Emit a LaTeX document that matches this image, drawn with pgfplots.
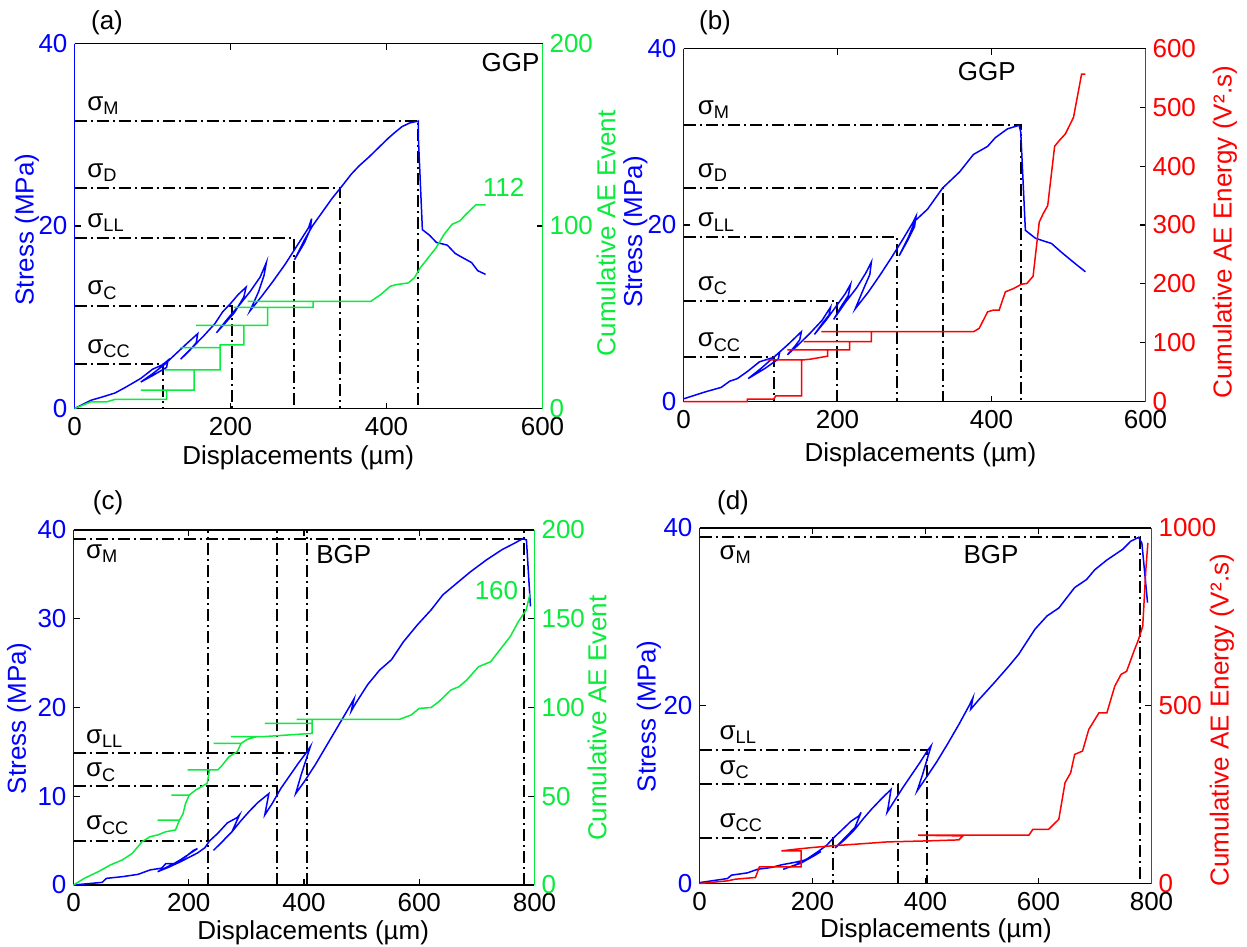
\documentclass[border=0pt]{standalone}
\usepackage{fontspec}
\setmainfont{Liberation Sans}
\usepackage{pgfplots}
\pgfplotsset{compat=1.18}
\definecolor{sb}{RGB}{0,0,255}
\definecolor{aeg}{RGB}{10,235,60}
\definecolor{aer}{RGB}{255,0,0}
\newcommand\fs{\fontsize{13}{15}\selectfont}
\tikzset{sig/.style={anchor=base west, inner sep=0pt, font=\fs}}
\pgfplotsset{
  common/.style={scale only axis, clip=false, tick align=inside, major tick length=3pt,
    every tick/.style={line width=0.6pt},
    axis line style={line width=0.9pt},
    ticklabel style={font=\fs},
    xticklabel style={yshift=-3pt, inner sep=1pt},
    label style={font=\fs, inner sep=1pt},
    /pgf/number format/assume math mode=true,
    /pgf/number format/1000 sep={},
    scaled ticks=false, xmin=0, anchor=south west},
  leftax/.style={common, axis x line*=box, axis y line*=left,
    y axis line style={sb}, yticklabel style={text=sb}, ylabel style={text=sb, rotate=0},
    ymin=0, ymax=40, ylabel={Stress (MPa)}, xlabel={Displacements (µm)}},
  rightax/.style={common, axis x line=none, axis y line*=right, xtick=\empty, ymin=0},
  stress/.style={sb, line width=0.75pt},
  refl/.style={black, line width=1pt, dash pattern=on 6pt off 2pt on 1pt off 2pt},
}
\begin{document}
\begin{tikzpicture}
\useasboundingbox (0,0) rectangle (623.5pt,-473.5pt);
% ---------------- (a) ----------------
\begin{axis}[leftax, at={(37.25pt,-204.25pt)}, width=234pt, height=182.5pt, xmax=600,
  xtick={0,200,400,600}, ytick={0,20,40},
  xlabel style={at={(axis description cs:0.478,-0.135)}, anchor=center},
  ylabel style={at={(axis description cs:-0.1015,0.49)}, anchor=center}]
\addplot[refl] coordinates {(0,31.5) (441,31.5) (441,0)};
\addplot[refl] coordinates {(0,24.15) (341,24.15) (341,0)};
\addplot[refl] coordinates {(0,18.64) (281,18.64) (281,0)};
\addplot[refl] coordinates {(0,11.27) (202,11.27) (202,0)};
\addplot[refl] coordinates {(0,4.84) (114,4.84) (114,0)};
\addplot[stress] coordinates {(0,0) (21,0.9) (37,1.3) (52,1.7) (67,2.4) (85,3.3) (100,4.3) (113,4.8) (120,5.3) (118,4.5) (100,3.6) (85,2.9) (100,3.8) (115,4.8) (130,6.0) (145,7.2) (158,8.2) (156,7.2) (147,6.3) (136,5.4) (150,6.6) (165,7.9) (180,9.3) (190,10.6) (200,11.5) (210,12.5) (220,13.3) (217,12.2) (205,10.5) (182,8.3) (195,9.7) (210,11.2) (225,12.8) (238,14.4) (246,16.0) (243,14.6) (236,12.8) (225,10.7) (240,12.3) (255,14.0) (270,15.8) (285,17.8) (300,19.8) (304,20.8) (302,19.6) (295,18.2) (282,16.3) (295,18.5) (305,20.0) (315,21.2) (330,23.0) (345,24.6) (355,25.7) (365,26.6) (378,27.6) (390,28.6) (402,29.6) (410,30.2) (420,30.9) (430,31.3) (441,31.5) (441,29.4) (446,19.6) (455,19.0) (464,18.2) (478,17.9) (488,17.0) (494,16.7) (509,16.0) (517,15.1) (527,14.7)};
\node[sig] at (axis cs:16,32.7) {σ\textsubscript{M}};
\node[sig] at (axis cs:16,25.35) {σ\textsubscript{D}};
\node[sig] at (axis cs:16,19.84) {σ\textsubscript{LL}};
\node[sig] at (axis cs:16,12.47) {σ\textsubscript{C}};
\node[sig] at (axis cs:16,6.04) {σ\textsubscript{CC}};
\node[font=\fs] at (axis cs:559,37.9) {GGP};
\end{axis}
\begin{axis}[rightax, at={(37.25pt,-204.25pt)}, width=234pt, height=182.5pt, xmax=600,
  ymax=200, ytick={0,100,200}, y axis line style={aeg}, yticklabel style={text=aeg},
  ylabel={Cumulative AE Event},
  ylabel style={text=aeg, rotate=0, at={(axis description cs:1.136,0.48)}, anchor=center}]
\addplot[aeg, line width=0.75pt] coordinates {(0,0) (21.4,3.7) (41.7,3.7) (51.9,5.0) (118,5.0) (118,10.1) (85,10.1) (153.5,10.1) (153.5,21.1) (115.4,21.1) (186.6,21.1) (186.6,33.4) (135.7,33.4) (186.6,33.4) (186.6,34.9) (217,34.9) (217,45.5) (156,45.5) (247.6,45.5) (247.6,55.4) (204,55.4) (306,55.4) (306,58.7) (222,58.7) (379.8,58.7) (392.5,62.4) (405,67.0) (412.8,67.9) (428,68.8) (435.7,71.6) (443.3,77.1) (453.5,82.6) (463.6,88.1) (473.8,95.4) (484,100.9) (494,102.8) (501.8,106.4) (514.5,111.6) (527.2,111.6)};
\node[font=\fs, text=aeg] at (axis cs:550,121) {112};
\end{axis}
% ---------------- (b) ----------------
\begin{axis}[leftax, at={(341.75pt,-200.75pt)}, width=231pt, height=176.5pt, xmax=600,
  xtick={0,200,400,600}, ytick={0,20,40},
  xlabel style={at={(axis description cs:0.513,-0.15)}, anchor=center},
  ylabel style={at={(axis description cs:-0.104,0.48)}, anchor=center}]
\addplot[refl] coordinates {(0,31.3) (438,31.3) (438,0)};
\addplot[refl] coordinates {(0,24.2) (336.6,24.2) (336.6,0)};
\addplot[refl] coordinates {(0,18.6) (277.4,18.6) (277.4,0)};
\addplot[refl] coordinates {(0,11.4) (199,11.4) (199,0)};
\addplot[refl] coordinates {(0,5.0) (117,5.0) (117,0)};
\addplot[stress] coordinates {(0,0.3) (28.6,1.1) (49,1.6) (60,2.3) (70,2.6) (83,3.4) (98.7,4.5) (117,5.0) (125,5.6) (123,4.8) (105,3.7) (84,2.6) (100,3.7) (117,5.0) (135,6.4) (153,7.9) (151,7.0) (145,6.3) (135,5.3) (150,6.5) (165,7.8) (180,9.2) (191,10.7) (189,9.8) (180,8.8) (170,7.6) (185,9.2) (200,11.0) (210,12.2) (217,13.3) (214,12.0) (205,10.8) (195,9.3) (210,11.2) (225,12.9) (237,14.6) (244,15.8) (242,14.4) (235,13.0) (223,10.5) (240,12.4) (255,14.3) (270,16.3) (285,18.4) (298,20.3) (302,21.0) (300,19.8) (292,18.4) (280,16.5) (292,18.6) (301,20.5) (317,21.8) (336.6,24.2) (358.4,26.0) (376.6,28.0) (394.8,28.9) (405,29.9) (420.8,30.9) (436,31.3) (438,30.5) (444,19.4) (457,18.5) (478,17.9) (491,16.9) (509,15.6) (522,14.7)};
\node[sig] at (axis cs:18,32.5) {σ\textsubscript{M}};
\node[sig] at (axis cs:18,25.4) {σ\textsubscript{D}};
\node[sig] at (axis cs:18,19.8) {σ\textsubscript{LL}};
\node[sig] at (axis cs:18,12.6) {σ\textsubscript{C}};
\node[sig] at (axis cs:18,6.2) {σ\textsubscript{CC}};
\node[font=\fs] at (axis cs:394,37.4) {GGP};
\end{axis}
\begin{axis}[rightax, at={(341.75pt,-200.75pt)}, width=231pt, height=176.5pt, xmax=600,
  ymax=600, ytick={0,100,...,600}, y axis line style={aer}, yticklabel style={text=aer},
  ylabel={Cumulative AE Energy (V²\kern0.5pt.s)},
  ylabel style={text=aer, rotate=0, at={(axis description cs:1.172,0.48)}, anchor=center}]
\addplot[aer, line width=0.75pt] coordinates {(0,0) (83,0) (83,4) (117,4) (120,9.6) (153.5,9.6) (153.5,70.6) (109,70.6) (155,70.6) (165,72) (187,77) (187,87.6) (135,87.6) (215.6,87.6) (215.6,101.7) (156,101.7) (244,101.7) (244,118.6) (179,118.6) (376.6,118.6) (384,124.3) (395,152.5) (402.6,155.4) (410,155.4) (418,186.4) (428.6,192) (439,199.4) (446,200.6) (454,213) (462,305) (467,319) (473,333) (482,434) (488,443.5) (496,455) (506.5,483) (517,556.5) (522,556.5)};
\end{axis}
% ---------------- (c) ----------------
\begin{axis}[leftax, at={(36.75pt,-442.5pt)}, width=230.5pt, height=177.5pt, xmax=800,
  xtick={0,200,400,600,800}, ytick={0,10,20,30,40},
  xlabel style={at={(axis description cs:0.52,-0.135)}, anchor=center},
  ylabel style={at={(axis description cs:-0.118,0.47)}, anchor=center}]
\addplot[refl] coordinates {(0,39.0) (782,39.0)};
\addplot[refl] coordinates {(0,14.85) (405,14.85)};
\addplot[refl] coordinates {(0,11.1) (352.6,11.1)};
\addplot[refl] coordinates {(0,4.96) (234,4.96)};
\addplot[refl] coordinates {(234,0) (234,40)};
\addplot[refl] coordinates {(352.6,0) (352.6,40)};
\addplot[refl] coordinates {(405.5,0) (405.5,40)};
\addplot[refl] coordinates {(782,0) (782,40)};
\addplot[stress] coordinates {(0,0) (50,0.3) (57,0.75) (85,0.94) (112,1.2) (133,1.7) (153,1.9) (160,2.4) (174,2.4) (195,3.2) (208,3.9) (215,4.1) (180,2.6) (146,1.5) (165,2.0) (185,2.6) (200,3.1) (215,3.6) (228,4.2) (236,4.96) (250,5.8) (267,7.0) (284,7.6) (288,7.9) (275,6.0) (243,3.9) (260,5.0) (275,6.0) (290,7.2) (305,8.3) (320,9.3) (339,10.3) (332,7.9) (345,9.2) (360,10.9) (375,12.3) (390,13.7) (405,15.0) (411,15.6) (395,12.4) (385.6,10.3) (400,11.6) (420,13.6) (440,15.8) (460,18.0) (480,20.2) (487,21.0) (482,19.6) (490,20.5) (510.7,22.6) (531,24.2) (552,25.4) (572.5,27.4) (596.6,29.3) (620.6,31.0) (641,32.7) (668.7,34.2) (689,35.3) (717,36.65) (744,37.8) (765,38.5) (779,39.0) (786,38.9) (793,31.4)};
\node[sig] at (axis cs:21,36.8) {σ\textsubscript{M}};
\node[sig] at (axis cs:21,16.0) {σ\textsubscript{LL}};
\node[sig] at (axis cs:21,12.2) {σ\textsubscript{C}};
\node[sig] at (axis cs:21,6.2) {σ\textsubscript{CC}};
\node[font=\fs] at (axis cs:469,37.2) {BGP};
\end{axis}
\begin{axis}[rightax, at={(36.75pt,-442.5pt)}, width=230.5pt, height=177.5pt, xmax=800,
  ymax=200, ytick={0,50,...,200}, y axis line style={aeg}, yticklabel style={text=aeg},
  ylabel={Cumulative AE Event},
  ylabel style={text=aeg, rotate=0, at={(axis description cs:1.136,0.47)}, anchor=center}]
\addplot[aeg, line width=0.75pt] coordinates {(0,0) (19,3.8) (43,7.5) (64,11.3) (84.5,14.1) (102,17.8) (119,24.4) (132.6,27.2) (146,28.2) (160,30) (177,31) (184,36.6) (146,36.6) (184,36.6) (190,40) (194.5,46) (201,50.7) (170,50.7) (201,50.7) (212,53.5) (222,55.4) (232,57.3) (236,64.8) (198,64.8) (250,64.8) (256,66.7) (270,72.3) (284,75.1) (291,79.8) (243,79.8) (291,79.8) (301,82) (318,83.6) (273,83.6) (330,83.6) (394,85) (414,85.4) (414,91) (332,91) (414,91) (414,93.3) (387,93.3) (565.6,93.3) (586,95.8) (600,99.5) (620.6,100) (634,103.3) (655,109.9) (669,111.7) (682.5,115.5) (703,123) (724,125.8) (737.5,131.5) (758,140) (772,148.4) (785.6,155) (792.4,164.3)};
\node[font=\fs, text=aeg] at (axis cs:734,166) {160};
\end{axis}
% ---------------- (d) ----------------
\begin{axis}[leftax, at={(349.75pt,-441.75pt)}, width=226pt, height=177.75pt, xmax=800,
  xtick={0,200,400,600,800}, ytick={0,20,40},
  xlabel style={at={(axis description cs:0.523,-0.133)}, anchor=center},
  ylabel style={at={(axis description cs:-0.112,0.47)}, anchor=center}]
\addplot[refl] coordinates {(0,38.95) (779.5,38.95) (779.5,0)};
\addplot[refl] coordinates {(0,15.0) (402.8,15.0) (402.8,0)};
\addplot[refl] coordinates {(0,11.16) (352,11.16) (352,0)};
\addplot[refl] coordinates {(0,5.1) (236.7,5.1) (236.7,0)};
\addplot[stress] coordinates {(0,0.1) (49.5,0.56) (56.5,0.94) (85,1.2) (102.5,1.6) (127,1.8) (145,2.1) (170,2.4) (191,2.7) (205,3.2) (215,3.6) (180,2.3) (148,1.6) (170,2.1) (191,2.8) (210,3.6) (225,4.3) (236.7,5.1) (250,5.9) (268,7.0) (282,7.6) (286,8.0) (275,6.3) (240,4.0) (258,5.0) (275,6.1) (290,7.3) (305,8.4) (320,9.4) (339,10.6) (334,8.6) (332,8.0) (345,9.3) (360,10.8) (375,12.2) (390,13.6) (404,15.0) (410,15.5) (395,12.3) (385,10.4) (400,11.8) (420,13.7) (440,15.8) (460,18.0) (478,20.1) (484,20.9) (480,19.6) (494.7,20.7) (519,22.4) (537,23.7) (548,24.5) (565,25.8) (593.6,28.6) (615,30.1) (636,31.0) (664,33.3) (685,34.2) (699.6,35.3) (721,36.4) (749,37.6) (763,38.5) (777,38.95) (783,38.3) (793,31.6)};
\node[sig] at (axis cs:35,36.5) {σ\textsubscript{M}};
\node[sig] at (axis cs:35,16.2) {σ\textsubscript{LL}};
\node[sig] at (axis cs:35,12.3) {σ\textsubscript{C}};
\node[sig] at (axis cs:35,6.3) {σ\textsubscript{CC}};
\node[font=\fs] at (axis cs:516,37.0) {BGP};
\end{axis}
\begin{axis}[rightax, at={(349.75pt,-441.75pt)}, width=226pt, height=177.75pt, xmax=800,
  ymax=1000, ytick={0,500,1000}, y axis line style={aer}, yticklabel style={text=aer},
  ylabel={Cumulative AE Energy (V²\kern0.5pt.s)},
  ylabel style={text=aer, rotate=0, at={(axis description cs:1.156,0.46)}, anchor=center}]
\addplot[aer, line width=0.75pt] coordinates {(0,0) (49.5,7.5) (63.6,12.2) (99,16.9) (106,46.8) (180,46.8) (180,91.8) (145,91.8) (170,96.4) (198,101) (233,105.8) (275.6,110.5) (332,117) (403,119.9) (459,122.7) (466,133.9) (387,135.8) (583,135.8) (590,152.6) (618,152.6) (636,180.7) (647,283.7) (657,311.8) (664,363) (678,372.7) (689,433.5) (707,480) (721,480) (735,555) (746,588) (756,597) (770,658) (777,686) (784.5,723.8) (790,883) (793.6,958)};
\end{axis}
% panel labels
\node[font=\fs] at (53.5pt,-11.5pt) {(a)};
\node[font=\fs] at (357.5pt,-11.5pt) {(b)};
\node[font=\fs] at (54pt,-251.5pt) {(c)};
\node[font=\fs] at (366.5pt,-251.5pt) {(d)};
\end{tikzpicture}
\end{document}
